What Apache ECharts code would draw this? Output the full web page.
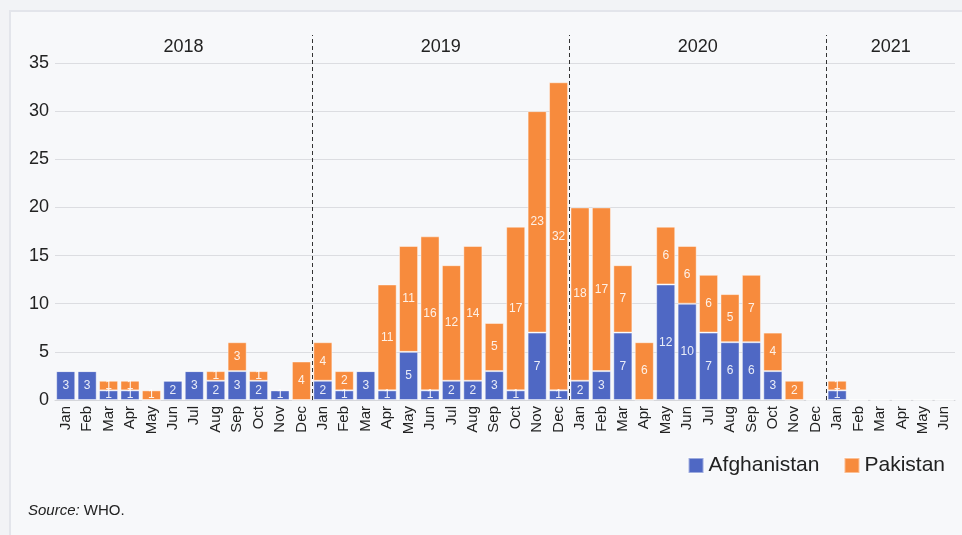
<!DOCTYPE html>
<html>
<head>
<meta charset="utf-8">
<script src="https://cdn.jsdelivr.net/npm/echarts@6/dist/echarts.min.js"></script>
<style>
html,body{margin:0;padding:0;background:#f2f3f6;}
#frame{position:absolute;left:9px;top:10px;width:960px;height:540px;border-left:2px solid #e3e5eb;border-top:2px solid #e3e5eb;background:#f7f8fa;}
#chart{position:absolute;left:0;top:0;width:962px;height:535px;}
</style>
</head>
<body>
<div id="frame"></div>
<div id="chart"></div>
<script>
const months = ['Jan','Feb','Mar','Apr','May','Jun','Jul','Aug','Sep','Oct','Nov','Dec',
  'Jan','Feb','Mar','Apr','May','Jun','Jul','Aug','Sep','Oct','Nov','Dec',
  'Jan','Feb','Mar','Apr','May','Jun','Jul','Aug','Sep','Oct','Nov','Dec',
  'Jan','Feb','Mar','Apr','May','Jun'];
const afghanistan = [3,3,1,1,0,2,3,2,3,2,1,0,
  2,1,3,1,5,1,2,2,3,1,7,1,
  2,3,7,0,12,10,7,6,6,3,0,0,
  1,0,0,0,0,0];
const pakistan = [0,0,1,1,1,0,0,1,3,1,0,4,
  4,2,0,11,11,16,12,14,5,17,23,32,
  18,17,7,6,6,6,6,5,7,4,2,0,
  1,0,0,0,0,0];
const years = ['2018','2019','2020','2021'];
const yearMonths = [12,12,12,6];
const yTicks = [0,5,10,15,20,25,30,35];

const total = yearMonths.reduce((a,b)=>a+b,0);
const boundaries = [];
const centers = {};
let acc = 0;
yearMonths.forEach((n,i)=>{ centers[acc + n/2] = years[i]; acc += n; if (acc < total) boundaries.push(acc); });

const FONT = "'Helvetica Neue', 'Liberation Sans', Arial, sans-serif";
const lbl = {
  show: true, position: 'inside', color: 'rgba(255,255,255,0.88)', fontSize: 12, fontFamily: FONT,
  formatter: p => p.value === 0 ? '' : p.value
};

const chart = echarts.init(document.getElementById('chart'), null, {renderer:'canvas'});
chart.setOption({
  backgroundColor: 'transparent',
  animation: false,
  grid: [
    {left: 55, right: 7, top: 63, bottom: 135},
    {left: 55, right: 7, top: 35, bottom: 135}
  ],
  legend: {
    data: ['Afghanistan','Pakistan'],
    right: 12, top: 450,
    icon: 'rect', itemWidth: 15, itemHeight: 15, itemGap: 24,
    textStyle: {fontSize: 21, color: '#222', fontFamily: FONT}
  },
  xAxis: [
    {
      type: 'category', data: months, gridIndex: 0,
      axisTick: {show: false},
      axisLine: {lineStyle: {color: '#d6d7db'}},
      axisLabel: {interval: 0, rotate: 90, fontSize: 15, color: '#222', fontFamily: FONT, margin: 6}
    },
    {
      type: 'value', gridIndex: 1, min: 0, max: total, interval: 3, position: 'top',
      axisLine: {show: false}, axisTick: {show: false}, splitLine: {show: false},
      axisLabel: {inside: true, margin: 3, fontSize: 18, color: '#222', fontFamily: FONT,
        verticalAlign: 'top',
        formatter: v => centers[v] || ''}
    }
  ],
  yAxis: [
    {
      type: 'value', gridIndex: 0, min: yTicks[0], max: yTicks[yTicks.length-1], interval: 5,
      axisLine: {show: false}, axisTick: {show: false},
      splitLine: {lineStyle: {color: '#dcdde1'}},
      axisLabel: {fontSize: 18, color: '#222', fontFamily: FONT, margin: 6}
    },
    {type: 'value', gridIndex: 1, min: 0, max: 1, show: false}
  ],
  color: ['#4f68c4', '#f78b3d'],
  series: [
    {
      name: 'Afghanistan', type: 'bar', stack: 'c', data: afghanistan,
      barCategoryGap: '11%',
      itemStyle: {color: '#4f68c4', borderColor: 'rgba(255,255,255,0.45)', borderWidth: 1},
      label: lbl
    },
    {
      name: 'Pakistan', type: 'bar', stack: 'c', data: pakistan,
      barCategoryGap: '11%',
      itemStyle: {color: '#f78b3d', borderColor: 'rgba(255,255,255,0.45)', borderWidth: 1},
      label: lbl
    },
    {
      name: 'yearsep', type: 'line', xAxisIndex: 1, yAxisIndex: 1,
      data: [[0,0]], showSymbol: false, lineStyle: {opacity: 0}, silent: true,
      markLine: {
        silent: true, symbol: ['none','none'], label: {show: false},
        lineStyle: {color: '#333', type: [4,3], width: 1},
        data: boundaries.map(b => ({xAxis: b}))
      }
    }
  ],
  graphic: [{
    type: 'text', left: 28, top: 503,
    style: {
      text: '{i|Source:} WHO.',
      font: '15px ' + FONT, fill: '#222',
      rich: {i: {fontStyle: 'italic', fontSize: 15, fill: '#222', fontFamily: FONT}}
    }
  }]
});
</script>
</body>
</html>
